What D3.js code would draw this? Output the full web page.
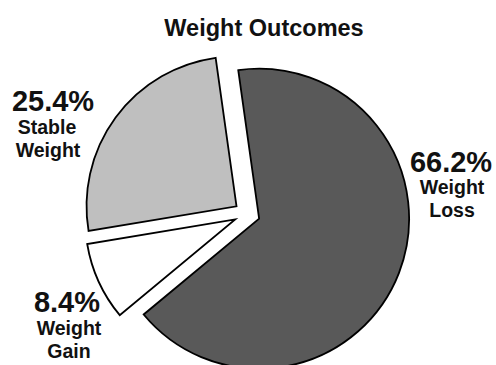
<!DOCTYPE html>
<html>
<head>
<meta charset="utf-8">
<script src="https://cdn.jsdelivr.net/npm/d3@7"></script>
<style>
  html, body { margin: 0; padding: 0; background: #fff; }
  svg { display: block; }
  text { font-family: "Liberation Sans", Arial, sans-serif; font-weight: bold; fill: #111; }
</style>
</head>
<body>
<svg id="chart" width="496" height="365"></svg>
<script>
const categories = ["Weight Loss", "Weight Gain", "Stable Weight"];
const values = [66.2, 8.4, 25.4];
const valueLabels = ["66.2%", "8.4%", "25.4%"];
const labelLines = [["Weight", "Loss"], ["Weight", "Gain"], ["Stable", "Weight"]];
const colors = ["#595959", "#ffffff", "#bfbfbf"];
const title = "Weight Outcomes";

const svg = d3.select("#chart");
const cx = 247, cy = 214, R = 150, explode = 13;
const start = -8 * Math.PI / 180;

svg.append("text")
  .attr("x", 264).attr("y", 36)
  .attr("text-anchor", "middle")
  .style("font-size", "23.5px")
  .text(title);

const pie = d3.pie().sort(null).value(d => d)
  .startAngle(start).endAngle(start + 2 * Math.PI);
const arcs = pie(values);
const arc = d3.arc().innerRadius(0).outerRadius(R);

const g = svg.append("g").attr("transform", `translate(${cx},${cy})`);
g.selectAll("path").data(arcs).enter().append("path")
  .attr("d", arc)
  .attr("fill", (d, i) => colors[i])
  .attr("stroke", "#000")
  .attr("stroke-width", 1.8)
  .attr("stroke-linejoin", "miter")
  .attr("transform", d => {
    const m = (d.startAngle + d.endAngle) / 2;
    return `translate(${Math.sin(m) * explode},${-Math.cos(m) * explode})`;
  });

// label layout: [pctX, pctY, line1X, line1Y, line2X, line2Y]
const labelPos = [
  [451, 172, 452, 194, 452, 217],
  [67, 312, 69, 335, 69, 358],
  [53, 111, 47, 134, 48, 157]
];
values.forEach((v, i) => {
  const p = labelPos[i];
  svg.append("text").attr("x", p[0]).attr("y", p[1])
    .attr("text-anchor", "middle").style("font-size", "29px")
    .text(valueLabels[i]);
  svg.append("text").attr("x", p[2]).attr("y", p[3])
    .attr("text-anchor", "middle").style("font-size", "19.5px")
    .text(labelLines[i][0]);
  svg.append("text").attr("x", p[4]).attr("y", p[5])
    .attr("text-anchor", "middle").style("font-size", "19.5px")
    .text(labelLines[i][1]);
});
</script>
</body>
</html>
